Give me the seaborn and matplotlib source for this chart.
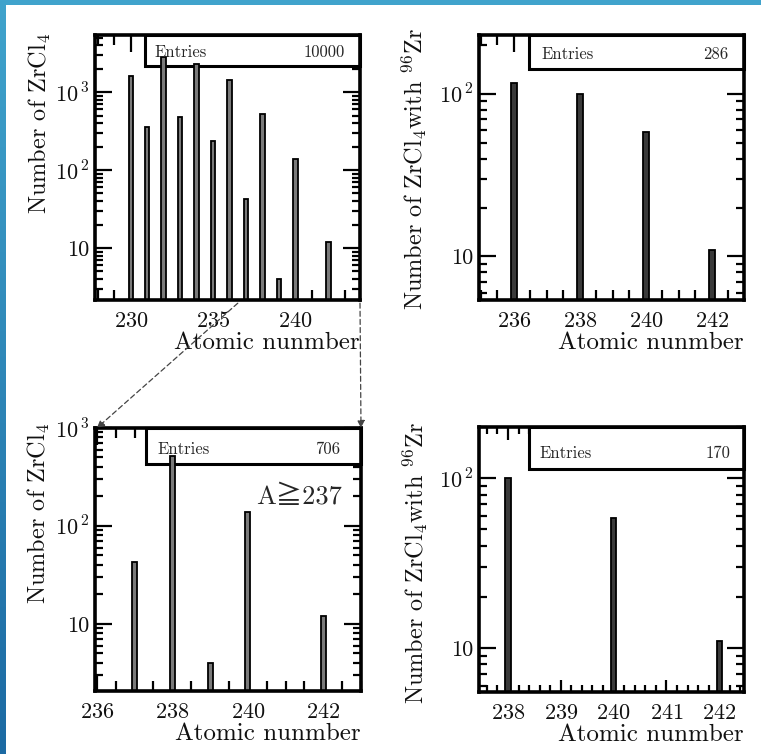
import numpy as np
import pandas as pd
import seaborn as sns
import matplotlib
matplotlib.use("Agg")
import matplotlib.pyplot as plt
from matplotlib.patches import Rectangle, ConnectionPatch
from matplotlib.ticker import (MultipleLocator, FixedLocator, FixedFormatter,
                               LogLocator, NullFormatter)

# ---------------- data ----------------
a_all = [230, 231, 232, 233, 234, 235, 236, 237, 238, 239, 240, 242]
n_all = [1620, 360, 2840, 480, 2310, 238, 1440, 43, 518, 4, 138, 12]

a_zr96 = [236, 238, 240, 242]
n_zr96 = [117, 100, 58, 11]

a_ge237 = [237, 238, 239, 240, 242]
n_ge237 = [43, 518, 4, 138, 12]

a_zr96_ge237 = [238, 240, 242]
n_zr96_ge237 = [100, 58, 11]

entries = ["10000", "286", "706", "170"]
xlabel = "Atomic nunmber"
ylabel_all = r"Number of ZrCl$_4$"
ylabel_zr = r"Number of ZrCl$_4$with $^{96}$Zr"
cut_label = "A≧237"

# ---------------- style ----------------
sns.set_theme(style="ticks")
plt.rcParams["font.family"] = ["cmr10", "Noto Sans CJK JP", "DejaVu Serif"]
plt.rcParams["mathtext.fontset"] = "cm"
plt.rcParams["axes.formatter.use_mathtext"] = True
plt.rcParams["axes.unicode_minus"] = False

W, H = 761, 754
fig = plt.figure(figsize=(W / 100, H / 100), dpi=100)
fig.patch.set_facecolor("white")


def px_axes(l, t, r, b):
    return fig.add_axes([l / W, 1 - b / H, (r - l) / W, (b - t) / H])


ax1 = px_axes(95, 35, 360, 300)
ax2 = px_axes(479, 35, 744, 300)
ax3 = px_axes(95, 428, 361, 691)
ax4 = px_axes(479, 427, 744, 692)

panels = [
    dict(ax=ax1, a=a_all, n=n_all, bw=0.27, fc="#7a7a7a", xlim=(227.83, 243.92),
         ylim=(2.15, 5400), xmaj=5, xmin=1, ylab=ylabel_all, ent=entries[0],
         yt=[10, 100, 1000], ytl=["10", r"$10^{\,2}$", r"$10^{\,3}$"],
         boxb=0.883, ex=0.226, ey=0.936, nx=0.943, ylx=-0.16, yly=1.01,
         xmajlen=12, xminlen=7),
    dict(ax=ax2, a=a_zr96, n=n_zr96, bw=0.17, fc="#3a3a3a", xlim=(234.94, 242.97),
         ylim=(5.4, 230), xmaj=2, xmin=0.5, ylab=ylabel_zr, ent=entries[1],
         yt=[10, 100], ytl=["10", r"$10^{\,2}$"],
         boxb=0.872, ex=0.234, ey=0.928, nx=0.94, ylx=-0.19, yly=1.026,
         xmajlen=12, xminlen=7),
    dict(ax=ax3, a=a_ge237, n=n_ge237, bw=0.13, fc="#7a7a7a", xlim=(235.95, 243.0),
         ylim=(2.07, 1000), xmaj=2, xmin=0.5, ylab=ylabel_all, ent=entries[2],
         yt=[10, 100, 1000], ytl=["10", r"$10^{\,2}$", r"$10^{\,3}$"],
         boxb=0.863, ex=0.233, ey=0.92, nx=0.92, ylx=-0.16, yly=1.02,
         xmajlen=12, xminlen=7),
    dict(ax=ax4, a=a_zr96_ge237, n=n_zr96_ge237, bw=0.1, fc="#3a3a3a",
         xlim=(237.45, 242.47), ylim=(5.5, 200), xmaj=1, xmin=0.2, ylab=ylabel_zr,
         ent=entries[3], yt=[10, 100], ytl=["10", r"$10^{\,2}$"],
         boxb=0.84, ex=0.23, ey=0.90, nx=0.947, ylx=-0.185, yly=1.02,
         xmajlen=9, xminlen=5),
]

for p in panels:
    ax = p["ax"]
    df = pd.DataFrame({"A": p["a"], "N": p["n"]})
    spacing = np.min(np.diff(sorted(p["a"])))
    sns.barplot(data=df, x="A", y="N", native_scale=True, width=p["bw"] / spacing,
                color=p["fc"], saturation=1, edgecolor="black", linewidth=1.3,
                errorbar=None, ax=ax, zorder=2)
    ax.set_yscale("log")
    ax.set_xlim(*p["xlim"])
    ax.set_ylim(*p["ylim"])
    ax.xaxis.set_major_locator(MultipleLocator(p["xmaj"]))
    ax.xaxis.set_minor_locator(MultipleLocator(p["xmin"]))
    ax.yaxis.set_major_locator(FixedLocator(p["yt"]))
    ax.yaxis.set_major_formatter(FixedFormatter(p["ytl"]))
    ax.yaxis.set_minor_locator(LogLocator(base=10, subs=np.arange(2, 10)))
    ax.yaxis.set_minor_formatter(NullFormatter())
    ax.tick_params(which="both", direction="in", top=True, right=True,
                   color="black", width=1.6, labelsize=16, labelcolor="#111111")
    ax.tick_params(axis="x", which="major", length=p["xmajlen"], pad=8)
    ax.tick_params(axis="x", which="minor", length=p["xminlen"])
    ax.tick_params(axis="y", which="major", length=12, pad=4)
    ax.tick_params(axis="y", which="minor", length=6)
    for s in ax.spines.values():
        s.set_linewidth(2.6)
        s.set_color("black")
    ax.set_xlabel(xlabel, fontsize=18, loc="right", color="#111111")
    ax.xaxis.set_label_coords(1.0, -0.12)
    ax.xaxis.label.set_verticalalignment("top")
    ax.set_ylabel(p["ylab"], fontsize=17.5, loc="top", color="#111111")
    ax.yaxis.set_label_coords(p["ylx"], p["yly"])
    # stats box
    ax.add_patch(Rectangle((0.19, p["boxb"]), 0.81, 1 - p["boxb"],
                           transform=ax.transAxes, facecolor="white",
                           edgecolor="black", linewidth=2.2, zorder=1.5,
                           clip_on=False))
    ax.text(p["ex"], p["ey"], "Entries", transform=ax.transAxes, fontsize=12,
            ha="left", va="center", zorder=3)
    ax.text(p["nx"], p["ey"], p["ent"], transform=ax.transAxes, fontsize=12,
            ha="right", va="center", zorder=3)

ax3.text(0.93, 0.738, cut_label, transform=ax3.transAxes, fontsize=19,
         ha="right", va="center",
         family=["cmr10", "Noto Sans CJK JP", "DejaVu Sans"])

# dashed connector arrows from the cut on the top-left panel
for xa, xb in [(236.5, 236.0), (ax1.get_xlim()[1], 243.0)]:
    con = ConnectionPatch(xyA=(xa, -0.012), coordsA=ax1.get_xaxis_transform(),
                          xyB=(xb, 1.0), coordsB=ax3.get_xaxis_transform(),
                          arrowstyle="-|>", linestyle=(0, (4, 2.5)), linewidth=0.9,
                          color="#444444", mutation_scale=11, shrinkA=0, shrinkB=0)
    fig.add_artist(con)

# blue slide frame (top band and left gradient band)
top = fig.add_axes([0, 1 - 5 / H, 1, 5 / H])
top.set_axis_off()
top.add_patch(Rectangle((0, 0), 1, 1, transform=top.transAxes,
                        facecolor="#40a3cc", edgecolor="none"))
left = fig.add_axes([0, 0, 6 / W, 1])
left.set_axis_off()
grad = np.linspace(0, 1, 256).reshape(-1, 1)
cmap = matplotlib.colors.LinearSegmentedColormap.from_list(
    "band", ["#40a3cc", "#1c6aa3"])
left.imshow(grad, aspect="auto", cmap=cmap, extent=(0, 1, 0, 1), origin="upper")

fig.savefig("out.png", dpi=100)
